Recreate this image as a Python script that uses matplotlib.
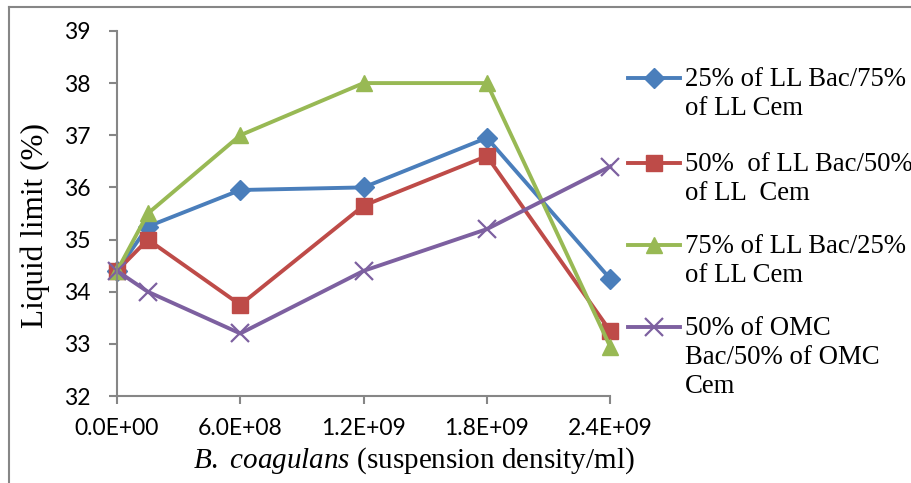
import numpy as np
import matplotlib
matplotlib.use("Agg")
import matplotlib.pyplot as plt
from matplotlib.lines import Line2D

plt.rcParams['mathtext.fontset'] = 'custom'
plt.rcParams['mathtext.rm'] = 'Liberation Serif'
plt.rcParams['mathtext.it'] = 'Liberation Serif:italic'

# data
density = [0.0, 1.5e8, 6.0e8, 1.2e9, 1.8e9, 2.4e9]
ll_25 = [34.4, 35.25, 35.95, 36.0, 36.95, 34.25]
ll_50 = [34.4, 35.0, 33.75, 35.65, 36.6, 33.25]
ll_75 = [34.4, 35.5, 37.0, 38.0, 38.0, 32.95]
omc_50 = [34.4, 34.0, 33.2, 34.4, 35.2, 36.4]

labels = ["25% of LL Bac/75%\nof LL Cem",
          "50%  of LL Bac/50%\nof LL  Cem",
          "75% of LL Bac/25%\nof LL Cem",
          "50% of OMC\nBac/50% of OMC\nCem"]
xticks = [0.0, 6.0e8, 1.2e9, 1.8e9, 2.4e9]
xticklabels = ["0.0E+00", "6.0E+08", "1.2E+09", "1.8E+09", "2.4E+09"]

styles = [dict(color='#4a7ebb', marker='D', ms=10),
          dict(color='#be4b48', marker='s', ms=12),
          dict(color='#98b954', marker='^', ms=12),
          dict(color='#7d60a0', marker='x', ms=13, mew=1.6)]

fig = plt.figure(figsize=(9.12, 4.83), dpi=100)
ax = fig.add_axes([0.1283, 0.180, 0.669 - 0.1283, 0.936 - 0.180])

for ys, st in zip([ll_25, ll_50, ll_75, omc_50], styles):
    ax.plot(density, ys, lw=2.8, clip_on=False, **st)

ax.set_xlim(0, 2.4e9)
ax.set_ylim(32, 39)
ax.set_xticks(xticks)
ax.set_xticklabels(xticklabels)
ax.set_yticks(range(32, 40))
for s in ['top', 'right']:
    ax.spines[s].set_visible(False)
for s in ['left', 'bottom']:
    ax.spines[s].set_color('#868686')
    ax.spines[s].set_linewidth(1.5)
ax.tick_params(colors='#868686', width=1.5, length=6, labelcolor='black',
               labelsize=16.5)
ax.tick_params(axis='x', pad=10)
ax.tick_params(axis='y', pad=13)
for t in ax.get_xticklabels() + ax.get_yticklabels():
    t.set_family('Lato')

ax.set_ylabel("Liquid limit (%)", family='Liberation Serif', fontsize=22.5)
ax.yaxis.set_label_coords(-0.136, 0.468)
ax.set_xlabel(r"$\it{B.}$ $\it{coagulans}$ (suspension density/ml)",
              family='Liberation Serif', fontsize=21)
ax.xaxis.set_label_coords(0.602, -0.135)

# legend drawn by hand so each handle sits on the first text line
leg_y = [78, 163, 245, 327]
for yy, st, lab in zip(leg_y, styles, labels):
    yf = 1 - yy / 483
    fig.add_artist(Line2D([628 / 912, 680 / 912], [yf, yf], lw=2.8,
                          color=st['color'], transform=fig.transFigure))
    fig.add_artist(Line2D([654 / 912], [yf], transform=fig.transFigure, lw=0, **st))
    fig.text(685 / 912, 1 - (yy - 11) / 483, lab, va='top', ha='left',
             family='Liberation Serif', fontsize=19.3, linespacing=1.2)

# outer chart border (left and top only visible)
fig.add_artist(Line2D([9 / 912, 9 / 912], [0, 1 - 7 / 483], color='#868686',
                      lw=1.5, transform=fig.transFigure))
fig.add_artist(Line2D([9 / 912, 1], [1 - 7 / 483, 1 - 7 / 483], color='#868686',
                      lw=1.5, transform=fig.transFigure))

fig.savefig("out.png", dpi=100)
